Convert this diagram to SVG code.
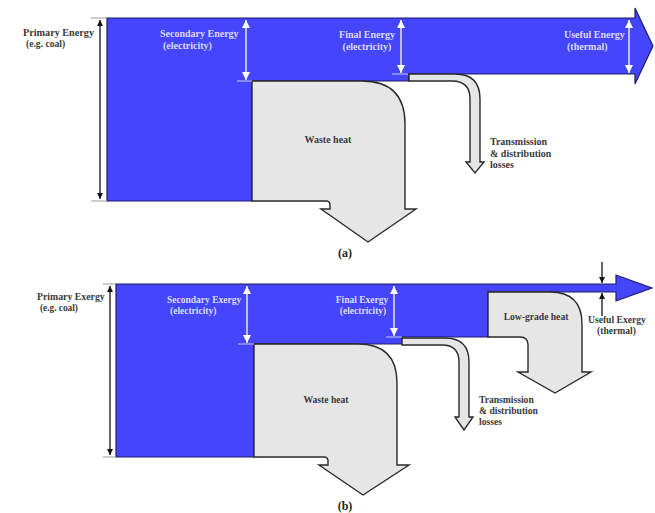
<svg xmlns="http://www.w3.org/2000/svg" width="655" height="513" viewBox="0 0 655 513">
  <defs>
    <style>
      .flow { fill: #4545fb; stroke: #1e1e66; stroke-width: 1.2; stroke-linejoin: miter; }
      .loss { fill: #e6e6e6; stroke: #2a2a2a; stroke-width: 1.4; stroke-linejoin: miter; }
      .lbl { font-family: "Liberation Serif", "DejaVu Serif", serif; font-weight: bold; fill: #3a3a3a; }
      .wlbl { font-family: "Liberation Serif", "DejaVu Serif", serif; font-weight: bold; fill: #dadaff; }
      .cap { font-family: "Liberation Serif", "DejaVu Serif", serif; font-weight: bold; fill: #222; font-size: 12px; }
      .dimk { stroke: #111; stroke-width: 1.3; fill: none; }
      .dimw { stroke: #ffffff; stroke-width: 1.3; fill: none; }
      .tick { stroke: #9a9a9a; stroke-width: 1; }
      .tickw { stroke: #c8c8e8; stroke-width: 1; }
    </style>
    <marker id="ahK" viewBox="0 0 10 10" refX="10" refY="5" markerWidth="6" markerHeight="7" markerUnits="userSpaceOnUse" orient="auto-start-reverse">
      <path d="M0,0 L10,5 L0,10 Z" fill="#111"/>
    </marker>
    <marker id="ahW" viewBox="0 0 10 10" refX="10" refY="5" markerWidth="8" markerHeight="8" markerUnits="userSpaceOnUse" orient="auto-start-reverse">
      <path d="M0,0 L10,5 L0,10 Z" fill="#ffffff"/>
    </marker>
  </defs>
  <rect width="655" height="513" fill="#ffffff"/>

  <!-- ===== Panel (a): energy flow ===== -->
  <g id="a-primary-flow">
    <path class="flow" d="M107,18 H635 V8 L653,46 L635,84 V74 H409 V81 H252 V201 H107 Z"/>
  </g>
  <g id="a-waste-heat">
    <path class="loss" d="M252,81 H362 Q405,81 405,124 V209 H416 L368,242 L321,209 H330 V205 Q330,201 326,201 H252 Z"/>
    <text class="lbl" x="328" y="143" font-size="10" text-anchor="middle">Waste heat</text>
  </g>
  <g id="a-transmission">
    <path class="loss" d="M409,74 H455 Q480,74 480,99 V162 H484 L475,173 L466,162 H470 V99 Q470,81 452,81 H409 Z"/>
    <text class="lbl" font-size="10" x="490" y="145">Transmission</text>
    <text class="lbl" font-size="10" x="490" y="157">&amp; distribution</text>
    <text class="lbl" font-size="10" x="490" y="168">losses</text>
  </g>
  <g id="a-labels">
    <text class="lbl" font-size="10.2" x="23" y="36">Primary Energy</text>
    <text class="lbl" font-size="9.6" x="26" y="47">(e.g. coal)</text>
    <text class="wlbl" font-size="10" x="160" y="37">Secondary Energy</text>
    <text class="wlbl" font-size="10" x="163" y="49">(electricity)</text>
    <text class="wlbl" font-size="10" x="367" y="38" text-anchor="middle">Final Energy</text>
    <text class="wlbl" font-size="10" x="367" y="50" text-anchor="middle">(electricity)</text>
    <text class="wlbl" font-size="10" x="564" y="38">Useful Energy</text>
    <text class="wlbl" font-size="10" x="567" y="50">(thermal)</text>
    <text class="cap" x="345" y="257" text-anchor="middle">(a)</text>
  </g>

  <!-- ===== Panel (b): exergy flow ===== -->
  <g id="b-primary-flow">
    <path class="flow" d="M116,284 H616 V275 L652,288 L616,301 V292 H488 V337 H402 V344 H254 V457 H116 Z"/>
  </g>
  <g id="b-waste-heat">
    <path class="loss" d="M254,344 H358 Q397,344 397,383 V465 H409 L363,495 L319,465 H328 V461 Q328,457 324,457 H254 Z"/>
    <text class="lbl" x="326" y="403" font-size="9.6" text-anchor="middle">Waste heat</text>
  </g>
  <g id="b-transmission">
    <path class="loss" d="M402,338 H445 Q469,338 469,362 V417 H473 L464,430 L455,417 H459 V362 Q459,345 442,345 H402 Z"/>
    <text class="lbl" font-size="9.6" x="479" y="403">Transmission</text>
    <text class="lbl" font-size="9.6" x="479" y="414">&amp; distribution</text>
    <text class="lbl" font-size="9.6" x="479" y="425">losses</text>
  </g>
  <g id="b-low-grade-heat">
    <path class="loss" d="M488,292 H550 Q582,292 582,324 V372 H591 L555,393 L518,372 H528 V345 Q528,337 520,337 H488 Z"/>
    <text class="lbl" font-size="9.6" x="536" y="320" text-anchor="middle">Low-grade heat</text>
  </g>
  <g id="b-labels">
    <text class="lbl" font-size="9.8" x="37" y="300">Primary Exergy</text>
    <text class="lbl" font-size="9.3" x="40" y="311">(e.g. coal)</text>
    <text class="wlbl" font-size="9.5" x="167" y="303">Secondary Exergy</text>
    <text class="wlbl" font-size="9.5" x="170" y="314">(electricity)</text>
    <text class="wlbl" font-size="9.5" x="362" y="303" text-anchor="middle">Final Exergy</text>
    <text class="wlbl" font-size="9.5" x="363" y="314" text-anchor="middle">(electricity)</text>
    <text class="lbl" font-size="9.6" x="588" y="323">Useful Exergy</text>
    <text class="lbl" font-size="9.6" x="597" y="334">(thermal)</text>
    <text class="cap" x="345" y="510" text-anchor="middle">(b)</text>
  </g>

  <!-- ===== Dimension arrows ===== -->
  <g id="connectors">
    <!-- panel (a) -->
    <line class="tick" x1="91" y1="18" x2="107" y2="18"/>
    <line class="tick" x1="91" y1="201" x2="107" y2="201"/>
    <line class="dimk" x1="100" y1="20" x2="100" y2="199" marker-start="url(#ahK)" marker-end="url(#ahK)"/>
    <line class="tickw" x1="237" y1="81" x2="252" y2="81"/>
    <line class="dimw" x1="246" y1="20" x2="246" y2="80" marker-start="url(#ahW)" marker-end="url(#ahW)"/>
    <line class="tickw" x1="392" y1="74" x2="408" y2="74"/>
    <line class="dimw" x1="401" y1="20" x2="401" y2="73" marker-start="url(#ahW)" marker-end="url(#ahW)"/>
    <line class="dimw" x1="629" y1="20" x2="629" y2="73" marker-start="url(#ahW)" marker-end="url(#ahW)"/>
    <!-- panel (b) -->
    <line class="tick" x1="103" y1="284" x2="116" y2="284"/>
    <line class="tick" x1="103" y1="457" x2="116" y2="457"/>
    <line class="dimk" x1="110" y1="286" x2="110" y2="455" marker-start="url(#ahK)" marker-end="url(#ahK)"/>
    <line class="tickw" x1="238" y1="344" x2="254" y2="344"/>
    <line class="dimw" x1="247" y1="286" x2="247" y2="343" marker-start="url(#ahW)" marker-end="url(#ahW)"/>
    <line class="tickw" x1="386" y1="337" x2="402" y2="337"/>
    <line class="dimw" x1="394" y1="286" x2="394" y2="336" marker-start="url(#ahW)" marker-end="url(#ahW)"/>
    <line class="dimk" x1="602" y1="262" x2="602" y2="283" marker-end="url(#ahK)"/>
    <line class="dimk" x1="602" y1="316" x2="602" y2="293" marker-end="url(#ahK)"/>
  </g>
</svg>
